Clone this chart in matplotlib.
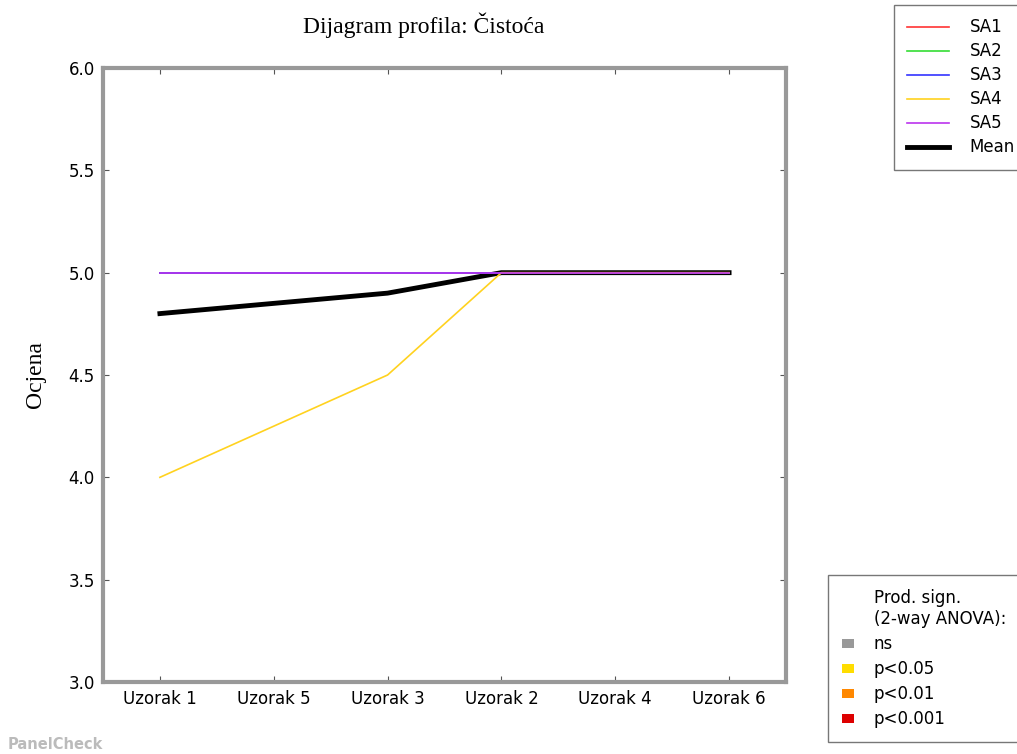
import matplotlib
matplotlib.use("Agg")
from matplotlib import pyplot as plt
from matplotlib.lines import Line2D
from matplotlib.patches import Patch

# data
samples = ["Uzorak 1", "Uzorak 5", "Uzorak 3", "Uzorak 2", "Uzorak 4", "Uzorak 6"]
sa1 = [5, 5, 5, 5, 5, 5]
sa2 = [5, 5, 5, 5, 5, 5]
sa3 = [5, 5, 5, 5, 5, 5]
sa4 = [4.0, 4.25, 4.5, 5, 5, 5]
sa5 = [5, 5, 5, 5, 5, 5]
mean = [4.8, 4.85, 4.9, 5, 5, 5]

assessors = ["SA1", "SA2", "SA3", "SA4", "SA5"]
scores = [sa1, sa2, sa3, sa4, sa5]
colors = ["#ff3333", "#33dd33", "#3333ff", "#ffd21f", "#bb33ee"]

sig_labels = ["ns", "p<0.05", "p<0.01", "p<0.001"]
sig_colors = ["#999999", "#ffdd00", "#ff8800", "#dd0000"]

fig = plt.figure(figsize=(10.17, 7.54), dpi=100)
ax = fig.add_axes([103 / 1017, 1 - 682 / 754, (786 - 103) / 1017, (682 - 68) / 754])

x = list(range(len(samples)))
ax.plot(x, mean, color="black", lw=3.5, zorder=2, solid_joinstyle="miter")
for name, vals, c in zip(assessors, scores, colors):
    ax.plot(x, vals, color=c, lw=1.2, zorder=3)

ax.set_xlim(-0.5, len(samples) - 0.5)
ax.set_ylim(3.0, 6.0)
ax.set_yticks([3.0, 3.5, 4.0, 4.5, 5.0, 5.5, 6.0])
ax.set_xticks(x)
ax.set_xticklabels(samples)
ax.tick_params(direction="in", top=True, right=True, length=4, color="#555555",
               labelsize=12, pad=6)
for s in ax.spines.values():
    s.set_color("#999999")
    s.set_linewidth(3)

fig.text(424 / 1017, 1 - 25 / 754, "Dijagram profila: \u010cisto\u0107a", ha="center", va="center",
         family="Liberation Serif", fontsize=17)
ax.set_ylabel("Ocjena", family="Liberation Serif", fontsize=17, labelpad=16)

handles = [Line2D([], [], color=c, lw=1.2) for c in colors]
handles.append(Line2D([], [], color="black", lw=3.5))
leg1 = fig.legend(handles, assessors + ["Mean"], loc="upper left",
                  bbox_to_anchor=(894 / 1017, 1 - 5 / 754), frameon=True, fancybox=False,
                  fontsize=12, handlelength=2.5, borderpad=0.8, labelspacing=0.36,
                  handletextpad=1.25, borderaxespad=0)
leg1.get_frame().set_edgecolor("#555555")

sig_handles = [Patch(color="white", alpha=0)] + [Patch(facecolor=c, edgecolor="none") for c in sig_colors]
leg2 = fig.legend(sig_handles, ["Prod. sign.\n(2-way ANOVA):"] + sig_labels, loc="upper left",
                  bbox_to_anchor=(828 / 1017, 1 - 575 / 754), frameon=True, fancybox=False,
                  fontsize=12, handlelength=0.7, handleheight=0.45, borderpad=0.85,
                  labelspacing=0.42, handletextpad=1.2, borderaxespad=0)
leg2.get_frame().set_edgecolor("#555555")

fig.text(8 / 1017, 1 - 749 / 754, "PanelCheck", color="#bbbbbb", fontsize=10.5,
         fontweight="bold", ha="left", va="baseline")

fig.savefig("out.png", dpi=100)
